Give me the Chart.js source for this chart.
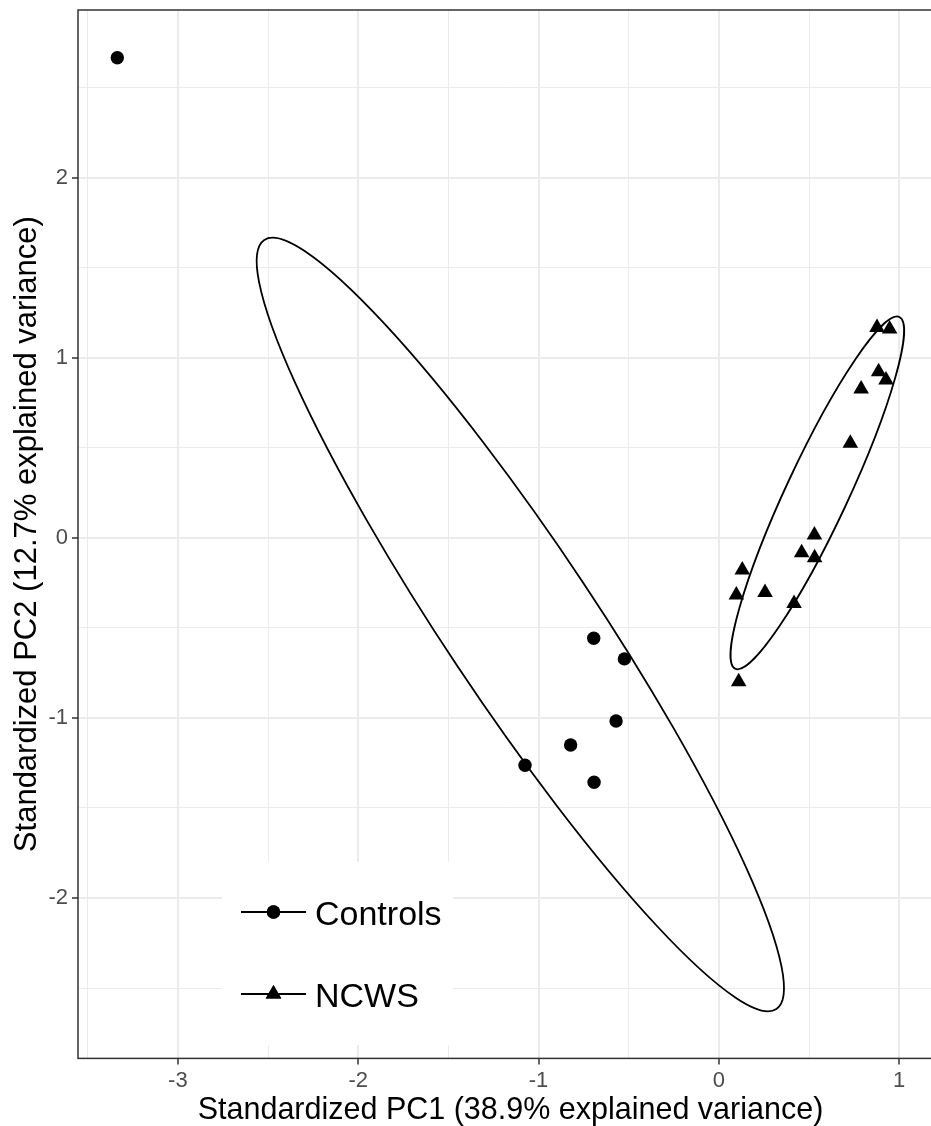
<!DOCTYPE html>
<html>
<head>
<meta charset="utf-8">
<script src="https://cdn.jsdelivr.net/npm/chart.js@4.4.1/dist/chart.umd.min.js"></script>
<style>
  html, body { margin: 0; padding: 0; background: #fff; overflow: hidden; }
  #wrap { width: 943px; height: 1126px; position: relative; }
</style>
</head>
<body>
<div id="wrap"><canvas id="myChart"></canvas></div>
<script>
// groups (legend order)
const groups = ['Controls', 'NCWS']

// Controls scores (PC1, PC2)
const controlsPC1 = [-3.336, -0.694, -0.524, -0.570, -0.822, -1.075, -0.692]
const controlsPC2 = [2.667, -0.557, -0.672, -1.017, -1.150, -1.263, -1.357]

// NCWS scores (PC1, PC2)
const ncwsPC1 = [0.877, 0.947, 0.886, 0.927, 0.789, 0.729, 0.530, 0.459, 0.531, 0.130, 0.097, 0.256, 0.417, 0.110]
const ncwsPC2 = [1.168, 1.160, 0.923, 0.877, 0.827, 0.525, 0.016, -0.082, -0.110, -0.178, -0.317, -0.303, -0.364, -0.799]

// ellipses: centre, end of the long axis, end of the short axis [Controls, NCWS]
const ellipseCentrePC1 = [-1.101, 0.546]
const ellipseCentrePC2 = [-0.481, 0.250]
const ellipseLongEndPC1 = [0.319, 1.001]
const ellipseLongEndPC2 = [-2.617, 1.227]
const ellipseShortEndPC1 = [-0.753, 0.702]
const ellipseShortEndPC2 = [-0.248, 0.177]

// axis ticks
const xTicks = [-3, -2, -1, 0, 1]
const yTicks = [-2, -1, 0, 1, 2]

const xTitle = 'Standardized PC1 (38.9% explained variance)'
const yTitle = 'Standardized PC2 (12.7% explained variance)'

document.addEventListener('DOMContentLoaded', function () {
    drawChart();
})

function toPoints(xs, ys) {
    const pts = []
    for (let i = 0; i < xs.length; i++) {
        pts.push({ x: xs[i], y: ys[i] })
    }
    return pts
}

function isMajor(v) {
    return Math.abs(v - Math.round(v)) < 1e-6
}

function drawChart() {
    Chart.defaults.font.family = '"Liberation Sans", Arial, sans-serif'
    Chart.defaults.color = '#4D4D4D'

    const markers = ['circle', 'triangle']
    const markerSize = [6.7, 9]

    // stat_ellipse style outlines, placed through the chart scales
    const ellipses = {
        id: 'ellipses',
        beforeDatasetsDraw(chart) {
            const ctx = chart.ctx
            const xs = chart.scales.x
            const ys = chart.scales.y
            ctx.save()
            ctx.strokeStyle = '#000'
            ctx.lineWidth = 1.8
            for (let i = 0; i < ellipseCentrePC1.length; i++) {
                const cx = xs.getPixelForValue(ellipseCentrePC1[i])
                const cy = ys.getPixelForValue(ellipseCentrePC2[i])
                const lx = xs.getPixelForValue(ellipseLongEndPC1[i])
                const ly = ys.getPixelForValue(ellipseLongEndPC2[i])
                const sx = xs.getPixelForValue(ellipseShortEndPC1[i])
                const sy = ys.getPixelForValue(ellipseShortEndPC2[i])
                const rLong = Math.hypot(lx - cx, ly - cy)
                const rShort = Math.hypot(sx - cx, sy - cy)
                ctx.beginPath()
                ctx.ellipse(cx, cy, rLong, rShort, Math.atan2(ly - cy, lx - cx), 0, Math.PI * 2)
                ctx.stroke()
            }
            ctx.restore()
        }
    }

    // legend inside the panel, bottom left, like ggplot; panel border
    const legendBox = {
        id: 'legendBox',
        afterDraw(chart) {
            const ctx = chart.ctx
            const area = chart.chartArea
            const boxLeft = area.left + 144
            ctx.save()
            ctx.fillStyle = '#ffffff'
            ctx.fillRect(boxLeft, 862, 231, 183)
            const rows = [912, 994]
            for (let i = 0; i < groups.length; i++) {
                const y = rows[i]
                ctx.strokeStyle = '#000'
                ctx.lineWidth = 1.8
                ctx.beginPath()
                ctx.moveTo(boxLeft + 19, y)
                ctx.lineTo(boxLeft + 84, y)
                ctx.stroke()
                ctx.fillStyle = '#000'
                Chart.helpers.drawPoint(ctx, { pointStyle: markers[i], radius: markerSize[i], borderWidth: 0 }, boxLeft + 51.5, y)
                ctx.fill()
                ctx.font = '34px "Liberation Sans", Arial, sans-serif'
                ctx.textBaseline = 'alphabetic'
                ctx.textAlign = 'left'
                ctx.fillText(groups[i], boxLeft + 93, y + 13)
            }
            ctx.strokeStyle = '#333333'
            ctx.lineWidth = 1.5
            ctx.strokeRect(area.left, area.top, area.right - area.left, area.bottom - area.top)
            ctx.restore()
        }
    }

    let ctx1 = document.getElementById('myChart')
    const data1 = {
        datasets: [{
            label: groups[0],
            data: toPoints(controlsPC1, controlsPC2),
            pointStyle: markers[0],
            pointRadius: markerSize[0],
            backgroundColor: '#000',
            borderWidth: 0,
        }, {
            label: groups[1],
            data: toPoints(ncwsPC1, ncwsPC2),
            pointStyle: markers[1],
            pointRadius: markerSize[1],
            backgroundColor: '#000',
            borderWidth: 0,
        }]
    }

    const config1 = {
        type: 'scatter',
        data: data1,
        plugins: [ellipses, legendBox],
        options: {
            responsive: true,
            maintainAspectRatio: false,
            animation: false,
            layout: { autoPadding: false, padding: { top: 10, right: 0, bottom: 0, left: 0 } },
            plugins: {
                legend: { display: false },
                tooltip: { enabled: false },
            },
            scales: {
                x: {
                    type: 'linear',
                    min: -3.554,
                    max: 1.243,
                    afterFit: function (scale) {
                        scale.height = 67.6
                        scale.paddingLeft = 0
                        scale.paddingRight = 0
                    },
                    border: { display: false },
                    grid: {
                        color: '#EBEBEB',
                        lineWidth: c => isMajor(c.tick.value) ? 2 : 1,
                        tickColor: c => isMajor(c.tick.value) ? '#333333' : 'rgba(0,0,0,0)',
                        tickLength: 6,
                        tickWidth: 1.5,
                    },
                    ticks: {
                        stepSize: 0.5,
                        includeBounds: false,
                        autoSkip: false,
                        maxRotation: 0,
                        padding: 3,
                        color: '#4D4D4D',
                        font: { size: 22 },
                        callback: v => xTicks.includes(v) ? String(v) : '',
                    },
                    title: {
                        display: true,
                        text: xTitle,
                        color: '#000',
                        font: { size: 30.5, lineHeight: 1 },
                        padding: { top: 0, bottom: 0 },
                    }
                },
                y: {
                    type: 'linear',
                    min: -2.891,
                    max: 2.932,
                    afterFit: function (scale) {
                        scale.width = 78
                        scale.paddingTop = 0
                        scale.paddingBottom = 0
                    },
                    border: { display: false },
                    grid: {
                        color: '#EBEBEB',
                        lineWidth: c => isMajor(c.tick.value) ? 2 : 1,
                        tickColor: c => isMajor(c.tick.value) ? '#333333' : 'rgba(0,0,0,0)',
                        tickLength: 6,
                        tickWidth: 1.5,
                    },
                    ticks: {
                        stepSize: 0.5,
                        includeBounds: false,
                        autoSkip: false,
                        padding: 4,
                        color: '#4D4D4D',
                        font: { size: 22 },
                        callback: v => yTicks.includes(v) ? String(v) : '',
                    },
                    title: {
                        display: true,
                        text: yTitle,
                        color: '#000',
                        font: { size: 31, lineHeight: 1 },
                        padding: { top: 12, bottom: 0 },
                    }
                }
            }
        }
    }

    const myChart1 = new Chart(ctx1, config1)
}
</script>
</body>
</html>
